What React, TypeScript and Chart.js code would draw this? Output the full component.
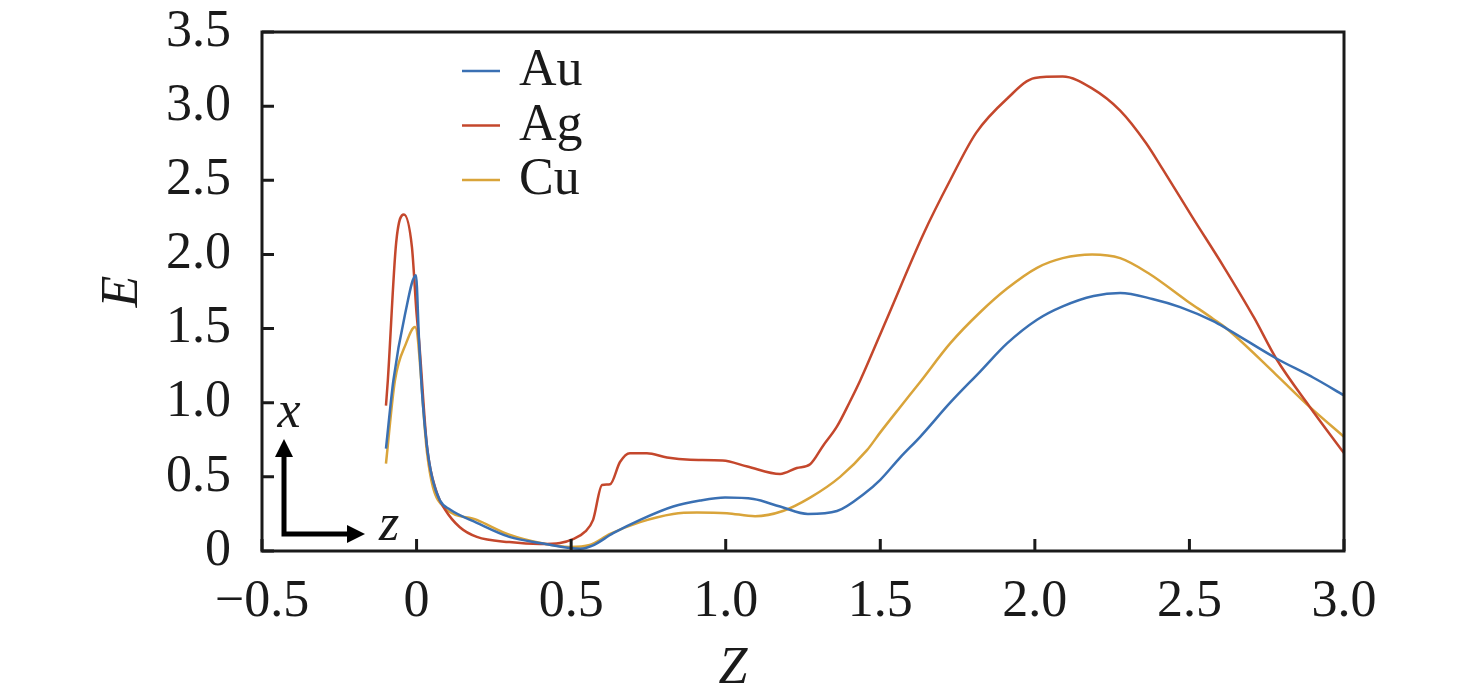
import { useEffect, useRef } from 'react';
import { Chart, registerables } from 'chart.js';

Chart.register(...registerables);

const seriesNames = ['Au', 'Ag', 'Cu'];
const seriesColors = ['#3a70b3', '#c4472c', '#d9a43a'];

const auZ = [-0.099, -0.075, -0.037, -0.002, 0.008, 0.02, 0.034, 0.05, 0.076, 0.108, 0.195, 0.3, 0.41, 0.496, 0.53, 0.567, 0.636, 0.723, 0.83, 0.917, 0.998, 1.09, 1.176, 1.266, 1.36, 1.45, 1.5, 1.564, 1.629, 1.726, 1.823, 1.91, 2.007, 2.09, 2.19, 2.276, 2.38, 2.47, 2.577, 2.62, 2.78, 2.9, 3.0];
const auE = [0.69, 1.15, 1.6, 1.86, 1.42, 1.0, 0.7, 0.5, 0.34, 0.28, 0.19, 0.095, 0.05, 0.02, 0.015, 0.034, 0.12, 0.21, 0.3, 0.34, 0.36, 0.35, 0.3, 0.25, 0.27, 0.39, 0.48, 0.63, 0.77, 1.0, 1.21, 1.4, 1.56, 1.65, 1.72, 1.74, 1.7, 1.645, 1.55, 1.5, 1.3, 1.17, 1.05];

const agZ = [-0.099, -0.093, -0.066, -0.041, -0.015, 0.0, 0.008, 0.034, 0.066, 0.092, 0.14, 0.195, 0.3, 0.4, 0.464, 0.506, 0.545, 0.571, 0.6, 0.626, 0.658, 0.69, 0.745, 0.81, 0.885, 0.99, 1.07, 1.176, 1.23, 1.273, 1.315, 1.36, 1.4, 1.435, 1.52, 1.64, 1.726, 1.81, 1.91, 2.0, 2.09, 2.185, 2.276, 2.36, 2.415, 2.51, 2.61, 2.71, 2.78, 2.89, 3.0];
const agE = [0.98, 1.15, 2.08, 2.27, 2.05, 1.6, 1.42, 0.7, 0.39, 0.28, 0.16, 0.095, 0.06, 0.047, 0.054, 0.08, 0.13, 0.21, 0.445, 0.45, 0.6, 0.66, 0.66, 0.63, 0.615, 0.61, 0.57, 0.52, 0.56, 0.585, 0.71, 0.84, 1.0, 1.15, 1.56, 2.14, 2.5, 2.82, 3.05, 3.19, 3.2, 3.12, 2.97, 2.75, 2.57, 2.25, 1.92, 1.57, 1.3, 0.97, 0.66];

const cuZ = [-0.099, -0.07, -0.034, -0.005, 0.034, 0.053, 0.092, 0.195, 0.3, 0.41, 0.496, 0.56, 0.626, 0.723, 0.83, 0.907, 1.004, 1.095, 1.185, 1.273, 1.37, 1.457, 1.5, 1.564, 1.629, 1.726, 1.823, 1.91, 2.007, 2.09, 2.185, 2.276, 2.37, 2.49, 2.577, 2.62, 2.78, 2.89, 3.0];
const cuE = [0.59, 1.15, 1.4, 1.51, 0.66, 0.43, 0.29, 0.21, 0.11, 0.05, 0.027, 0.04, 0.115, 0.195, 0.25, 0.26, 0.255, 0.235, 0.27, 0.36, 0.5, 0.68, 0.8, 0.97, 1.14, 1.4, 1.61, 1.77, 1.91, 1.975, 2.0, 1.975, 1.87, 1.69, 1.565, 1.5, 1.19, 0.97, 0.77];

const zTicks = [-0.5, 0, 0.5, 1.0, 1.5, 2.0, 2.5, 3.0];
const eTicks = [0, 0.5, 1.0, 1.5, 2.0, 2.5, 3.0, 3.5];

const FONT = '"Liberation Serif", Tinos, "Times New Roman", Times, serif';
const INK = '#1a1a1a';

const fmt = (v: number) => (v === 0 ? '0' : (v < 0 ? '\u2212' : '') + Math.abs(v).toFixed(1));

const pts = (zs: number[], es: number[]) => zs.map((z, i) => ({ x: z, y: es[i] }));

// frame, inward ticks, legend, the x/z arrows and the Z axis title
const decorPlugin = {
  id: 'decor',
  afterDraw(chart: any) {
    const { ctx, chartArea: a, scales } = chart;
    ctx.save();
    ctx.strokeStyle = INK;
    ctx.lineWidth = 3;
    ctx.beginPath();
    zTicks.forEach((v) => {
      const px = scales.x.getPixelForValue(v);
      ctx.moveTo(px, a.bottom);
      ctx.lineTo(px, a.bottom - 12);
    });
    eTicks.forEach((v) => {
      const py = scales.y.getPixelForValue(v);
      ctx.moveTo(a.left, py);
      ctx.lineTo(a.left + 12, py);
    });
    ctx.stroke();
    ctx.strokeRect(a.left, a.top, a.right - a.left, a.bottom - a.top);

    // legend
    ctx.font = `52px ${FONT}`;
    ctx.fillStyle = INK;
    ctx.textBaseline = 'alphabetic';
    ctx.textAlign = 'left';
    seriesNames.forEach((name, i) => {
      const y = a.top + 39 + i * 54.5;
      ctx.strokeStyle = seriesColors[i];
      ctx.lineWidth = 2.5;
      ctx.beginPath();
      ctx.moveTo(a.left + 200, y);
      ctx.lineTo(a.left + 238, y);
      ctx.stroke();
      ctx.fillText(name, a.left + 257, y + 14);
    });

    // coordinate arrows
    const ox = a.left + 22;
    const oy = a.bottom - 17;
    ctx.strokeStyle = '#000';
    ctx.fillStyle = '#000';
    ctx.lineWidth = 5;
    ctx.beginPath();
    ctx.moveTo(ox, oy - 78);
    ctx.lineTo(ox, oy);
    ctx.lineTo(ox + 64, oy);
    ctx.stroke();
    ctx.beginPath();
    ctx.moveTo(ox, oy - 95);
    ctx.lineTo(ox - 9, oy - 77);
    ctx.lineTo(ox + 9, oy - 77);
    ctx.closePath();
    ctx.fill();
    ctx.beginPath();
    ctx.moveTo(ox + 81, oy);
    ctx.lineTo(ox + 63, oy - 9);
    ctx.lineTo(ox + 63, oy + 9);
    ctx.closePath();
    ctx.fill();

    ctx.font = `italic 52px ${FONT}`;
    ctx.fillStyle = INK;
    ctx.textAlign = 'center';
    ctx.textBaseline = 'alphabetic';
    ctx.fillText('x', ox + 5, oy - 107);
    ctx.fillText('z', ox + 105, oy + 6);

    // x axis title
    ctx.fillText('Z', 733, 683);
    ctx.restore();
  },
};

export default function App() {
  const canvasRef = useRef<HTMLCanvasElement>(null);
  const chartRef = useRef<Chart | null>(null);

  useEffect(() => {
    if (!canvasRef.current) return;
    if (chartRef.current) chartRef.current.destroy();

    const series = [pts(auZ, auE), pts(agZ, agE), pts(cuZ, cuE)];

    chartRef.current = new Chart(canvasRef.current, {
      type: 'line',
      data: {
        datasets: seriesNames.map((name, i) => ({
          label: name,
          data: series[i],
          borderColor: seriesColors[i],
          backgroundColor: seriesColors[i],
          borderWidth: 2.5,
          pointRadius: 0,
          cubicInterpolationMode: 'monotone' as const,
          fill: false,
        })),
      },
      options: {
        animation: false,
        responsive: true,
        maintainAspectRatio: false,
        layout: { padding: { left: 0, top: 32, right: 132, bottom: 0 } },
        plugins: {
          legend: { display: false },
          tooltip: { enabled: false },
        },
        scales: {
          x: {
            type: 'linear',
            min: -0.5,
            max: 3.0,
            grid: { display: false },
            border: { display: false },
            afterBuildTicks: (s: any) => { s.ticks = zTicks.map((v) => ({ value: v })); },
            afterFit: (s: any) => { s.height = 147; s.paddingLeft = 0; s.paddingRight = 0; },
            ticks: {
              padding: 12,
              maxRotation: 0,
              autoSkip: false,
              color: INK,
              font: { family: FONT, size: 52 },
              callback: (v: any) => fmt(Number(v)),
            },
          },
          y: {
            type: 'linear',
            min: 0,
            max: 3.5,
            grid: { display: false },
            border: { display: false },
            afterBuildTicks: (s: any) => { s.ticks = eTicks.map((v) => ({ value: v })); },
            afterFit: (s: any) => { s.width = 262; s.paddingTop = 0; s.paddingBottom = 0; },
            title: {
              display: true,
              text: 'E',
              color: INK,
              padding: { top: 92, bottom: 0 },
              font: { family: FONT, size: 52, style: 'italic' },
            },
            ticks: {
              padding: 23,
              autoSkip: false,
              color: INK,
              font: { family: FONT, size: 52 },
              callback: (v: any) => fmt(Number(v)),
            },
          },
        },
      },
      plugins: [decorPlugin],
    });

    // make sure the serif face is loaded, then redraw with it
    if (document.fonts) {
      Promise.all([
        document.fonts.load('52px "Liberation Serif"'),
        document.fonts.load('italic 52px "Liberation Serif"'),
      ])
        .catch(() => null)
        .then(() => chartRef.current?.update());
    }

    return () => chartRef.current?.destroy();
  }, []);

  return (
    <div style={{ position: 'absolute', left: 0, top: 0, width: 1476, height: 698, background: '#fff' }}>
      <span style={{ position: 'absolute', left: -9999, fontFamily: FONT }}>
        Au <i>Ag</i>
      </span>
      <canvas ref={canvasRef} />
    </div>
  );
}
